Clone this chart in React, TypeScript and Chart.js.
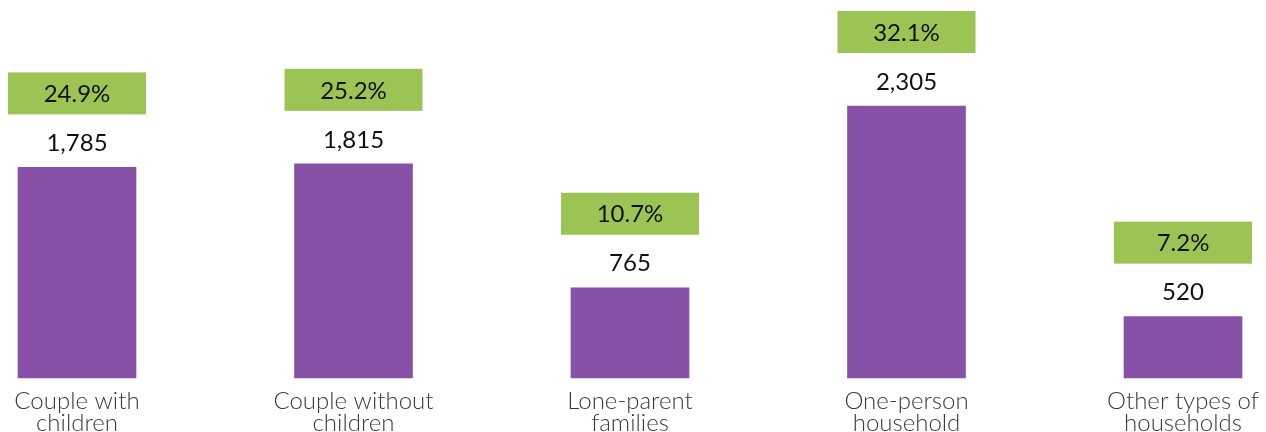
import React, { useEffect, useRef } from "react";
import { Chart, registerables } from "chart.js";

Chart.register(...registerables);

const categories: string[][] = [
  ["Couple with", "children"],
  ["Couple without", "children"],
  ["Lone-parent", "families"],
  ["One-person", "household"],
  ["Other types of", "households"],
];
const counts: number[] = [1785, 1815, 765, 2305, 520];
const shares: string[] = ["24.9%", "25.2%", "10.7%", "32.1%", "7.2%"];

const PURPLE = "#8651A7";
const GREEN = "#9BC455";

const labelPlugin = {
  id: "labelPlugin",
  afterDatasetsDraw(chart: any) {
    const ctx = chart.ctx;
    const meta = chart.getDatasetMeta(0);
    const xScale = chart.scales.x;
    ctx.save();
    meta.data.forEach((bar: any, i: number) => {
      const x = bar.x;
      const top = bar.y;
      ctx.textAlign = "center";
      ctx.textBaseline = "middle";
      ctx.fillStyle = "#111111";
      ctx.font = "24px Lato";
      ctx.fillText(counts[i].toLocaleString("en-US"), x, top - 24);
      const boxW = 138;
      const boxH = 42;
      const boxBottom = top - 53;
      ctx.fillStyle = GREEN;
      ctx.fillRect(x - boxW / 2, boxBottom - boxH, boxW, boxH);
      ctx.fillStyle = "#111111";
      ctx.fillText(shares[i], x, boxBottom - boxH / 2 + 1);
    });
    ctx.font = "300 24px Lato";
    ctx.fillStyle = "#3a3a3a";
    categories.forEach((lines, i) => {
      const x = xScale.getPixelForValue(i);
      lines.forEach((ln, j) => {
        ctx.fillText(ln, x, 401 + j * 22);
      });
    });
    ctx.restore();
  },
};

export default function App() {
  const ref = useRef<HTMLCanvasElement | null>(null);
  useEffect(() => {
    if (!ref.current) return;
    const chart = new Chart(ref.current, {
      type: "bar",
      data: {
        labels: categories.map((c) => c.join(" ")),
        datasets: [
          {
            data: counts,
            backgroundColor: PURPLE,
            barThickness: 118,
            clip: false as any,
          },
        ],
      },
      options: {
        animation: false,
        responsive: false,
        maintainAspectRatio: false,
        layout: { padding: { left: 77, right: 83, top: 24, bottom: 54 } },
        plugins: { legend: { display: false }, tooltip: { enabled: false } },
        scales: {
          x: { display: false, offset: false, grid: { display: false } },
          y: { display: false, min: 0, max: 3000 },
        },
      },
      plugins: [labelPlugin],
    });
    return () => chart.destroy();
  }, []);
  return (
    <div style={{ position: "fixed", left: 0, top: 0, width: 1266, height: 432, background: "#fff" }}>
      <canvas ref={ref} width={1266} height={432} style={{ width: 1266, height: 432 }} />
    </div>
  );
}
